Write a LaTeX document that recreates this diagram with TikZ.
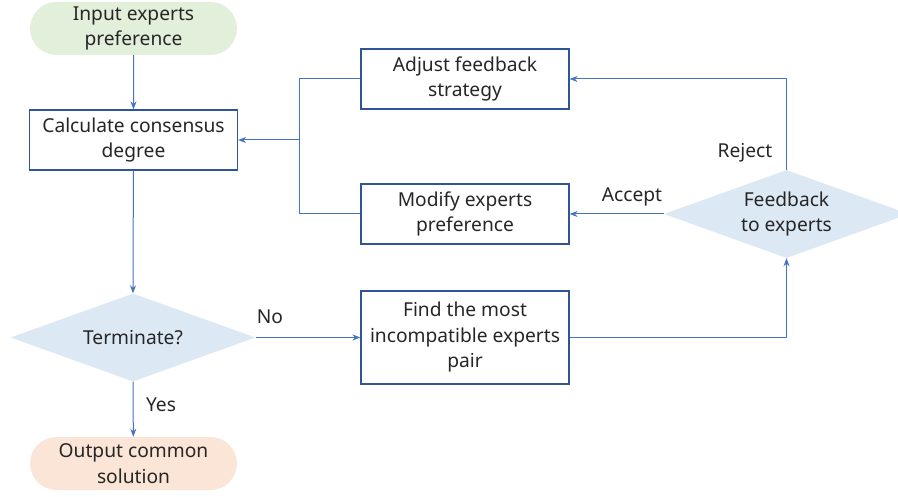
\documentclass[tikz,border=0pt]{standalone}
\usepackage{fontspec}
\setmainfont{Noto Sans}
\usetikzlibrary{shapes.geometric,shapes.misc,arrows.meta}
\definecolor{linec}{HTML}{4472C4}
\definecolor{boxc}{HTML}{2F5597}
\definecolor{txt}{HTML}{262626}
\definecolor{greenf}{HTML}{E2EFDA}
\definecolor{peachf}{HTML}{FBE5D6}
\definecolor{bluef}{HTML}{DDE8F5}
\begin{document}
\begin{tikzpicture}[x=1pt,y=-1pt,
  every node/.style={font=\fontsize{19.2}{25.5}\selectfont, text=txt, align=center},
  procbox/.style={draw=boxc, line width=1.2pt, minimum width=208pt, minimum height=60pt, inner sep=0pt},
  termbox/.style={rounded rectangle, minimum width=207pt, minimum height=53pt, inner sep=0pt},
  decbox/.style={diamond, fill=bluef, aspect=2.8, inner sep=0pt},
  conn/.style={draw=linec, line width=1pt, -{Stealth[length=8pt,width=6pt]}},
  plain/.style={draw=linec, line width=1pt}]
\useasboundingbox (0,0) rectangle (898,497);
\clip (0,0) rectangle (898,497);
\node[termbox, fill=greenf] (input) at (133.5,28.5) {Input experts\\preference};
\node[procbox] (calc) at (133.5,140) {Calculate consensus\\degree};
\node[decbox, minimum width=245pt, minimum height=88pt] (term) at (133,337.5) {Terminate?};
\node[termbox, fill=peachf] (output) at (133.5,463.5) {Output common\\solution};
\node[procbox] (adjust) at (465,79) {Adjust feedback\\strategy};
\node[procbox] (modify) at (465,214) {Modify experts\\preference};
\node[procbox, minimum height=93pt] (find) at (465,337.5) {Find the most\\incompatible experts\\pair};
\node[decbox, minimum width=245pt, minimum height=88pt] (fb) at (786.5,214) {Feedback\\to experts};
\coordinate (junc) at (299,140);
\draw[conn] (input) -- (calc);
\draw[conn] (calc) -- (term.north);
\draw[conn] (term.south) -- (output);
\draw[conn] (term.east) -- (find.west);
\draw[conn] (find.east) -| (fb.south);
\draw[conn] (fb.north) |- (adjust.east);
\draw[conn] (fb.west) -- (modify.east);
\draw[plain] (adjust.west) -| (junc);
\draw[plain] (modify.west) -| (junc);
\draw[conn] (junc) -- (calc.east);
\node (yes) at (161,405) {Yes};
\node (no) at (270,317) {No};
\node (reject) at (745,153) {Reject};
\node (accept) at (632,197) {Accept};
\end{tikzpicture}
\end{document}
